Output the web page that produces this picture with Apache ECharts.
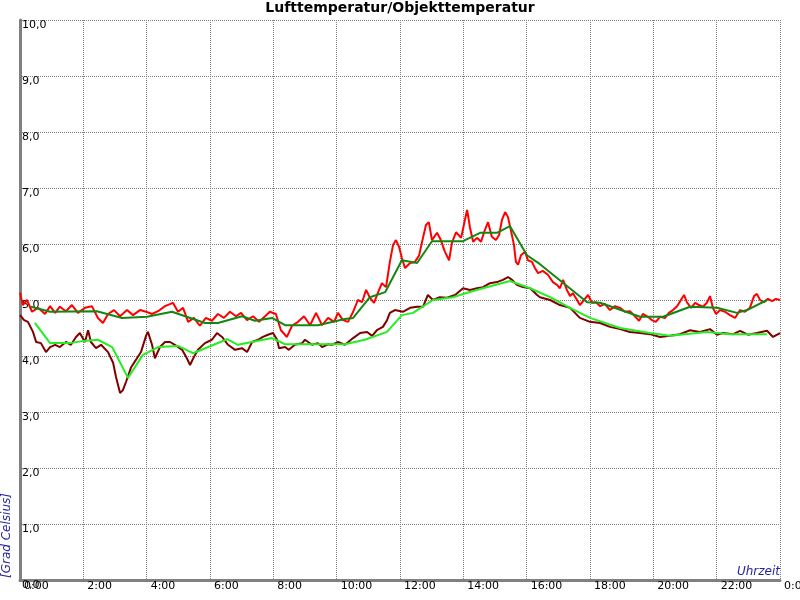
<!DOCTYPE html>
<html><head><meta charset="utf-8">
<script src="https://cdn.jsdelivr.net/npm/echarts@6/dist/echarts.min.js"></script>
<style>html,body{margin:0;padding:0;background:#fff}#c{width:800px;height:600px}</style>
</head><body><div id="c"></div>
<script>
// Lufttemperatur (raw) [hour, °C]
const luftRaw = [[0,5.13],[0.09,4.91],[0.22,5.0],[0.38,4.79],[0.57,4.86],[0.79,4.75],[0.95,4.89],[1.11,4.77],[1.26,4.88],[1.45,4.80],[1.64,4.91],[1.83,4.77],[2.05,4.86],[2.27,4.89],[2.46,4.68],[2.62,4.59],[2.78,4.75],[2.97,4.82],[3.16,4.71],[3.38,4.82],[3.57,4.73],[3.79,4.82],[3.98,4.79],[4.17,4.75],[4.36,4.80],[4.58,4.89],[4.83,4.95],[4.99,4.79],[5.15,4.86],[5.31,4.61],[5.49,4.68],[5.68,4.54],[5.87,4.68],[6.06,4.63],[6.25,4.75],[6.44,4.68],[6.63,4.79],[6.82,4.71],[6.98,4.77],[7.17,4.64],[7.36,4.71],[7.55,4.61],[7.74,4.71],[7.89,4.79],[8.08,4.75],[8.24,4.46],[8.43,4.34],[8.59,4.54],[8.78,4.61],[8.97,4.71],[9.16,4.55],[9.35,4.77],[9.54,4.55],[9.73,4.68],[9.92,4.61],[10.04,4.77],[10.2,4.64],[10.36,4.61],[10.52,4.79],[10.67,5.0],[10.8,4.96],[10.93,5.18],[11.05,5.04],[11.18,4.95],[11.31,5.14],[11.43,5.30],[11.56,5.23],[11.68,5.68],[11.78,5.98],[11.87,6.07],[11.97,5.95],[12.06,5.75],[12.16,5.57],[12.32,5.66],[12.47,5.68],[12.6,5.79],[12.69,6.02],[12.82,6.34],[12.91,6.39],[13.01,6.07],[13.17,6.20],[13.29,6.07],[13.42,5.86],[13.55,5.71],[13.64,6.02],[13.77,6.21],[13.93,6.11],[14.05,6.43],[14.12,6.61],[14.21,6.29],[14.31,6.04],[14.43,6.11],[14.56,6.04],[14.68,6.25],[14.78,6.39],[14.9,6.13],[15.03,6.07],[15.13,6.16],[15.22,6.43],[15.32,6.57],[15.41,6.48],[15.5,6.25],[15.6,5.98],[15.66,5.68],[15.73,5.63],[15.82,5.80],[15.95,5.86],[16.04,5.71],[16.17,5.68],[16.26,5.57],[16.36,5.48],[16.51,5.52],[16.67,5.45],[16.83,5.32],[16.96,5.27],[17.05,5.21],[17.15,5.36],[17.27,5.18],[17.37,5.07],[17.46,5.12],[17.59,5.0],[17.68,4.91],[17.81,5.0],[17.94,5.09],[18.06,4.95],[18.19,4.96],[18.32,4.89],[18.47,4.93],[18.63,4.82],[18.79,4.89],[18.95,4.86],[19.1,4.79],[19.26,4.80],[19.42,4.71],[19.55,4.63],[19.67,4.75],[19.83,4.70],[19.96,4.64],[20.08,4.61],[20.21,4.70],[20.37,4.68],[20.49,4.77],[20.62,4.82],[20.75,4.89],[20.87,5.0],[20.97,5.09],[21.06,4.96],[21.19,4.86],[21.32,4.95],[21.44,4.91],[21.57,4.88],[21.69,4.95],[21.79,5.07],[21.88,4.86],[21.98,4.75],[22.11,4.82],[22.26,4.79],[22.42,4.73],[22.58,4.68],[22.74,4.82],[22.89,4.79],[23.05,4.86],[23.18,5.07],[23.27,5.11],[23.37,5.0],[23.49,4.96],[23.62,5.02],[23.75,4.98],[23.87,5.02],[24.0,5.0]];
// Lufttemperatur (geglättet)
const luftMittel = [[0.35,4.88],[0.95,4.79],[2.43,4.80],[3.22,4.68],[4.01,4.70],[4.80,4.79],[5.84,4.59],[6.25,4.59],[7.01,4.71],[7.42,4.63],[7.96,4.68],[8.37,4.55],[9.41,4.55],[10.26,4.66],[10.52,4.68],[11.05,5.05],[11.53,5.14],[12.06,5.71],[12.54,5.66],[13.01,6.05],[13.99,6.05],[14.53,6.20],[15.06,6.20],[15.47,6.32],[16.01,5.80],[16.42,5.64],[17.91,4.96],[18.32,4.95],[19.58,4.70],[20.31,4.70],[21.16,4.88],[22.01,4.86],[22.64,4.77],[22.96,4.82],[23.59,5.0]];
// Objekttemperatur (raw)
const objektRaw = [[0,4.73],[0.13,4.64],[0.25,4.61],[0.41,4.43],[0.51,4.25],[0.66,4.23],[0.82,4.07],[0.95,4.16],[1.11,4.20],[1.26,4.16],[1.45,4.25],[1.61,4.20],[1.77,4.34],[1.89,4.41],[2.05,4.25],[2.15,4.46],[2.24,4.25],[2.40,4.14],[2.56,4.20],[2.78,4.07],[2.94,3.88],[3.03,3.63],[3.16,3.34],[3.25,3.39],[3.35,3.54],[3.51,3.80],[3.66,3.93],[3.82,4.07],[3.98,4.36],[4.04,4.43],[4.17,4.20],[4.26,3.96],[4.42,4.16],[4.58,4.25],[4.74,4.25],[4.89,4.20],[5.12,4.11],[5.27,3.96],[5.37,3.84],[5.49,3.98],[5.62,4.11],[5.84,4.23],[6.06,4.29],[6.22,4.41],[6.38,4.34],[6.57,4.20],[6.79,4.11],[7.01,4.14],[7.17,4.07],[7.33,4.25],[7.52,4.29],[7.67,4.34],[7.83,4.38],[7.99,4.41],[8.12,4.29],[8.18,4.14],[8.37,4.16],[8.49,4.11],[8.68,4.20],[8.91,4.23],[9.0,4.29],[9.22,4.20],[9.41,4.23],[9.54,4.16],[9.73,4.21],[9.85,4.20],[10.04,4.25],[10.26,4.20],[10.52,4.32],[10.74,4.41],[10.96,4.43],[11.12,4.36],[11.27,4.46],[11.46,4.52],[11.59,4.64],[11.68,4.77],[11.84,4.82],[12.09,4.79],[12.32,4.86],[12.54,4.88],[12.73,4.88],[12.88,5.09],[13.04,5.0],[13.26,5.05],[13.48,5.04],[13.74,5.09],[13.99,5.21],[14.21,5.18],[14.43,5.21],[14.62,5.23],[14.84,5.30],[15.06,5.32],[15.25,5.36],[15.41,5.41],[15.54,5.36],[15.69,5.27],[15.88,5.23],[16.11,5.21],[16.33,5.09],[16.42,5.05],[16.74,5.0],[17.05,4.91],[17.37,4.86],[17.68,4.68],[18.0,4.61],[18.32,4.59],[18.63,4.52],[18.95,4.48],[19.26,4.43],[19.58,4.41],[19.89,4.39],[20.21,4.34],[20.53,4.36],[20.84,4.39],[21.16,4.46],[21.47,4.43],[21.79,4.48],[22.01,4.38],[22.2,4.41],[22.52,4.39],[22.74,4.45],[22.99,4.38],[23.27,4.41],[23.59,4.45],[23.78,4.34],[24.0,4.41]];
// Objekttemperatur (geglättet)
const objektMittel = [[0.47,4.59],[0.95,4.23],[1.58,4.23],[2.02,4.27],[2.46,4.29],[2.91,4.16],[3.41,3.61],[3.88,4.02],[4.36,4.16],[4.99,4.18],[5.46,4.05],[6.54,4.30],[6.88,4.20],[7.96,4.32],[8.37,4.21],[10.26,4.21],[10.89,4.29],[11.59,4.43],[12.06,4.73],[12.41,4.77],[13.04,5.0],[13.67,5.05],[14.12,5.13],[14.62,5.21],[15.47,5.34],[16.11,5.21],[16.74,5.05],[17.37,4.86],[18.0,4.68],[18.95,4.5],[19.89,4.41],[20.53,4.36],[21.69,4.43],[22.42,4.39],[23.59,4.39]];

const titleText = 'Lufttemperatur/Objekttemperatur';
const yName = '[Grad Celsius]';
const xName = 'Uhrzeit';

const chart = echarts.init(document.getElementById('c'), null, {renderer: 'canvas'});
const font = 'DejaVu Sans';
const mk = (data, color) => ({type: 'line', data, showSymbol: false, symbol: 'none', smooth: false,
  lineStyle: {color, width: 2}, itemStyle: {color}, animation: false});
chart.setOption({
  animation: false,
  backgroundColor: '#ffffff',
  title: {text: titleText, left: 'center', top: 1, padding: 0,
    textStyle: {fontFamily: font, fontSize: 14, fontWeight: 'bold', color: '#000'}},
  grid: {left: 20, top: 20, width: 760, height: 560, containLabel: false, outerBoundsMode: 'none'},
  xAxis: {type: 'value', min: 0, max: 24, interval: 2,
    axisLine: {show: true, onZero: false, lineStyle: {color: '#808080', width: 3}},
    axisTick: {show: false},
    splitLine: {show: true, lineStyle: {color: '#808080', width: 1, type: [1, 1]}},
    axisLabel: {fontFamily: font, fontSize: 11, color: '#000', align: 'left', margin: 1,
      padding: [0, 0, 0, 4], showMinLabel: true, showMaxLabel: true, hideOverlap: false,
      formatter: v => (v % 24) + ':00'}},
  yAxis: {type: 'value', min: 0, max: 10, interval: 1,
    axisLine: {show: true, onZero: false, lineStyle: {color: '#808080', width: 3}},
    axisTick: {show: false},
    splitLine: {show: true, lineStyle: {color: '#808080', width: 1, type: [1, 1]}},
    axisLabel: {inside: true, fontFamily: font, fontSize: 11, color: '#000', align: 'left',
      verticalAlign: 'top', margin: 2, showMinLabel: true, showMaxLabel: true,
      formatter: v => v.toFixed(1).replace('.', ',')}},
  graphic: [
    {type: 'text', x: 13, y: 578, rotation: Math.PI / 2,
      style: {text: yName, fontFamily: font, fontSize: 12, fontStyle: 'italic', fill: '#2525a0',
        align: 'left', verticalAlign: 'bottom'}},
    {type: 'text', x: 780, y: 578,
      style: {text: xName, fontFamily: font, fontSize: 12, fontStyle: 'italic', fill: '#2525a0',
        align: 'right', verticalAlign: 'bottom'}}
  ],
  series: [
    mk(luftRaw, '#ff0000'),
    mk(objektRaw, '#800000'),
    mk(luftMittel, '#118811'),
    mk(objektMittel, '#22ee22')
  ]
});
</script></body></html>
